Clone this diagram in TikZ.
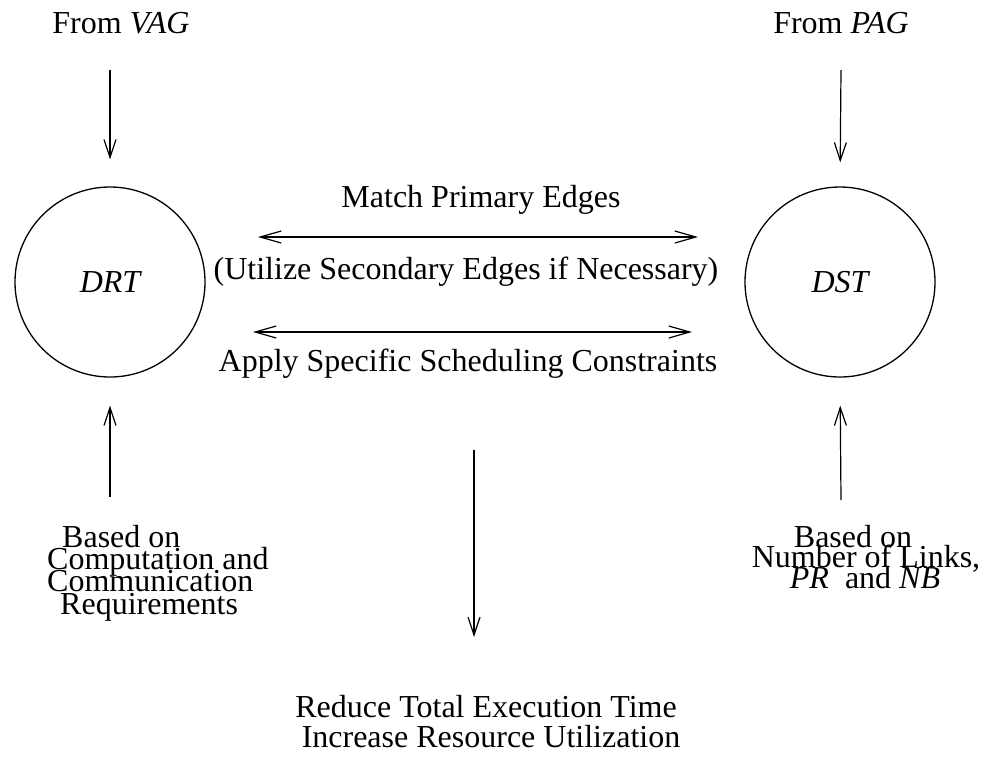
\documentclass[tikz,border=0pt]{standalone}
\usepackage{fontspec}
\setmainfont{Liberation Serif}
\usetikzlibrary{arrows.meta}

\begin{document}
\begin{tikzpicture}[x=1pt, y=-1pt,
  txt/.style={inner sep=0pt, anchor=base, font=\fontsize{32}{36}\selectfont},
  txtw/.style={txt, anchor=base west},
  ring/.style={draw, circle, line width=1.3pt, minimum size=190pt, inner sep=0pt,
               font=\fontsize{32}{36}\selectfont\itshape},
  arr/.style={line width=1.2pt, -{Straight Barb[length=18pt,width=12pt,line width=1.2pt]}},
  dbl/.style={line width=1.2pt,
              {Straight Barb[length=21pt,width=12pt,line width=1.2pt]}-{Straight Barb[length=21pt,width=12pt,line width=1.2pt]}}
]
\useasboundingbox (0,0) rectangle (985,756);

% the two trees
\node[ring] (drt) at (110,282) {DRT};
\node[ring] (dst) at (840,282) {DST};

% sources
\node[txt] (vag) at (121,33) {From \textit{VAG}};
\node[txt] (pag) at (841,33) {From \textit{PAG}};
\coordinate (vagfoot) at (110,70);
\coordinate (pagfoot) at (841,70);
\draw[arr, shorten >=27pt] (vagfoot) -- (drt.north);
\draw[arr, shorten >=24pt] (pagfoot) -- (dst.north);

% matching between the trees
\node[txt] (match) at (481,207) {Match Primary Edges};
\node[txt] (util)  at (466,279) {(Utilize Secondary Edges if Necessary)};
\node[txt] (apply) at (468,371) {Apply Specific Scheduling Constraints};
\coordinate (m1l) at (258,237);
\coordinate (m1r) at (698,237);
\coordinate (m2l) at (253,332);
\coordinate (m2r) at (692,332);
\draw[dbl] (m1l) -- (m1r);
\draw[dbl] (m2l) -- (m2r);

% how each tree is built
\node[txtw] (lb1) at (62,547)  {Based on};
\node[txtw] (lb2) at (47,569)  {Computation and};
\node[txtw] (lb3) at (47,591)  {Communication};
\node[txtw] (lb4) at (60,614)  {Requirements};
\node[txt]  (rb1) at (853,547) {Based on};
\node[txt]  (rb2) at (866,567) {Number of Links,};
\node[txt]  (rb3) at (865,588) {\textit{PR}\ \ and \textit{NB}};
\coordinate (upl) at (110,497);
\coordinate (upr) at (841,500);
\draw[arr, shorten >=28pt] (upl) -- (drt.south);
\draw[arr, shorten >=28pt] (upr) -- (dst.south);

% objectives
\coordinate (outtop) at (474,450);
\coordinate (outtip) at (474,637);
\draw[arr] (outtop) -- (outtip);
\node[txt] (goal1) at (486,717) {Reduce Total Execution Time};
\node[txt] (goal2) at (491,747) {Increase Resource Utilization};
\end{tikzpicture}
\end{document}
